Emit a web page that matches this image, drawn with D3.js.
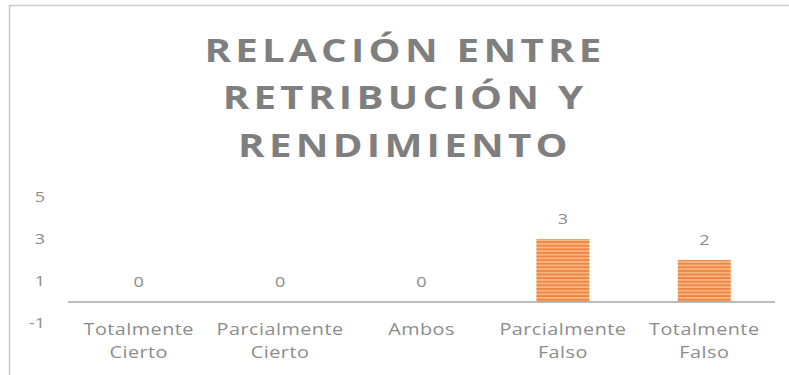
<!DOCTYPE html>
<html>
<head>
<meta charset="utf-8">
<script src="https://cdn.jsdelivr.net/npm/d3@7/dist/d3.min.js"></script>
<style>
  html, body { margin: 0; padding: 0; background: #fff; }
  svg { display: block; }
</style>
</head>
<body>
<svg id="chart" width="789" height="375"></svg>
<script>
// Chart data
const categories = [["Totalmente", "Cierto"], ["Parcialmente", "Cierto"], ["Ambos"], ["Parcialmente", "Falso"], ["Totalmente", "Falso"]];
const values = [0, 0, 0, 3, 2];
const yTicks = [-1, 1, 3, 5];
const titleLines = ["RELACIÓN ENTRE", "RETRIBUCIÓN Y", "RENDIMIENTO"];

const svg = d3.select("#chart");
const textColor = "#8c8c8c";
const font = "'Open Sans', 'DejaVu Sans', sans-serif";
const wide = 1.2; // horizontal widening of the lettering

// Frame lines (top and left edge)
svg.append("line").attr("x1", 9).attr("x2", 789).attr("y1", 5.5).attr("y2", 5.5)
  .attr("stroke", "#c8c8c8").attr("stroke-width", 1.5);
svg.append("line").attr("x1", 9.5).attr("x2", 9.5).attr("y1", 5).attr("y2", 375)
  .attr("stroke", "#c8c8c8").attr("stroke-width", 1.5);

// Stripe pattern for bars
const defs = svg.append("defs");
const pat = defs.append("pattern").attr("id", "stripes")
  .attr("patternUnits", "userSpaceOnUse").attr("width", 8).attr("height", 3.6);
pat.append("rect").attr("width", 8).attr("height", 3.6).attr("fill", "#f8b583");
pat.append("rect").attr("y", 0).attr("width", 8).attr("height", 1.8).attr("fill", "#ee8540");

// Title
const title = svg.append("text")
  .attr("transform", `translate(405,0) scale(1.22,1)`)
  .attr("text-anchor", "middle")
  .attr("fill", "#7f7f7f")
  .attr("font-family", font)
  .attr("font-weight", "bold")
  .attr("font-size", 33)
  .attr("letter-spacing", 3.5);
titleLines.forEach((t, i) => {
  title.append("tspan").attr("x", 0).attr("y", 62 + i * 47.5).text(t);
});

// Scales
const x = d3.scaleBand().domain(d3.range(categories.length)).range([68, 775]).paddingInner(0).paddingOuter(0);
const y = d3.scaleLinear().domain([-1, 5]).range([323, 197]);
const barW = 53;
const cx = i => x(i) + x.bandwidth() / 2;

// Y axis tick labels
const yAxis = d3.axisLeft(y).tickValues(yTicks).tickSize(0).tickPadding(0).tickFormat(d => String(d));
const yg = svg.append("g").attr("transform", "translate(45,0)").call(yAxis);
yg.select(".domain").remove();
yg.selectAll("text").attr("fill", textColor).attr("font-family", font).attr("font-size", 15)
  .attr("transform", `scale(${wide},1)`);

// Bars
svg.selectAll("rect.bar").data(values).enter().append("rect")
  .attr("class", "bar")
  .attr("x", (d, i) => cx(i) - barW / 2)
  .attr("width", barW)
  .attr("y", d => y(Math.max(d, 0)))
  .attr("height", d => Math.abs(y(d) - y(0)))
  .attr("fill", "url(#stripes)");

// Baseline
svg.append("line").attr("x1", x.range()[0]).attr("x2", x.range()[1])
  .attr("y1", y(0)).attr("y2", y(0))
  .attr("stroke", "#a6a6a6").attr("stroke-width", 1.5);

// Value labels
svg.selectAll("text.val").data(values).enter().append("text")
  .attr("class", "val")
  .attr("transform", (d, i) => `translate(${cx(i)},${y(d) - 15}) scale(${wide},1)`)
  .attr("text-anchor", "middle")
  .attr("fill", textColor)
  .attr("font-family", font)
  .attr("font-size", 15)
  .text(d => d);

// Category labels
const cat = svg.selectAll("text.cat").data(categories).enter().append("text")
  .attr("class", "cat")
  .attr("transform", (d, i) => `translate(${cx(i)},0) scale(${wide},1)`)
  .attr("text-anchor", "middle")
  .attr("fill", textColor)
  .attr("font-family", font)
  .attr("font-size", 16.5)
  .attr("letter-spacing", 0.4);
cat.each(function(lines) {
  const t = d3.select(this);
  lines.forEach((l, j) => {
    t.append("tspan").attr("x", 0).attr("y", 335 + j * 23).text(l);
  });
});
</script>
</body>
</html>
